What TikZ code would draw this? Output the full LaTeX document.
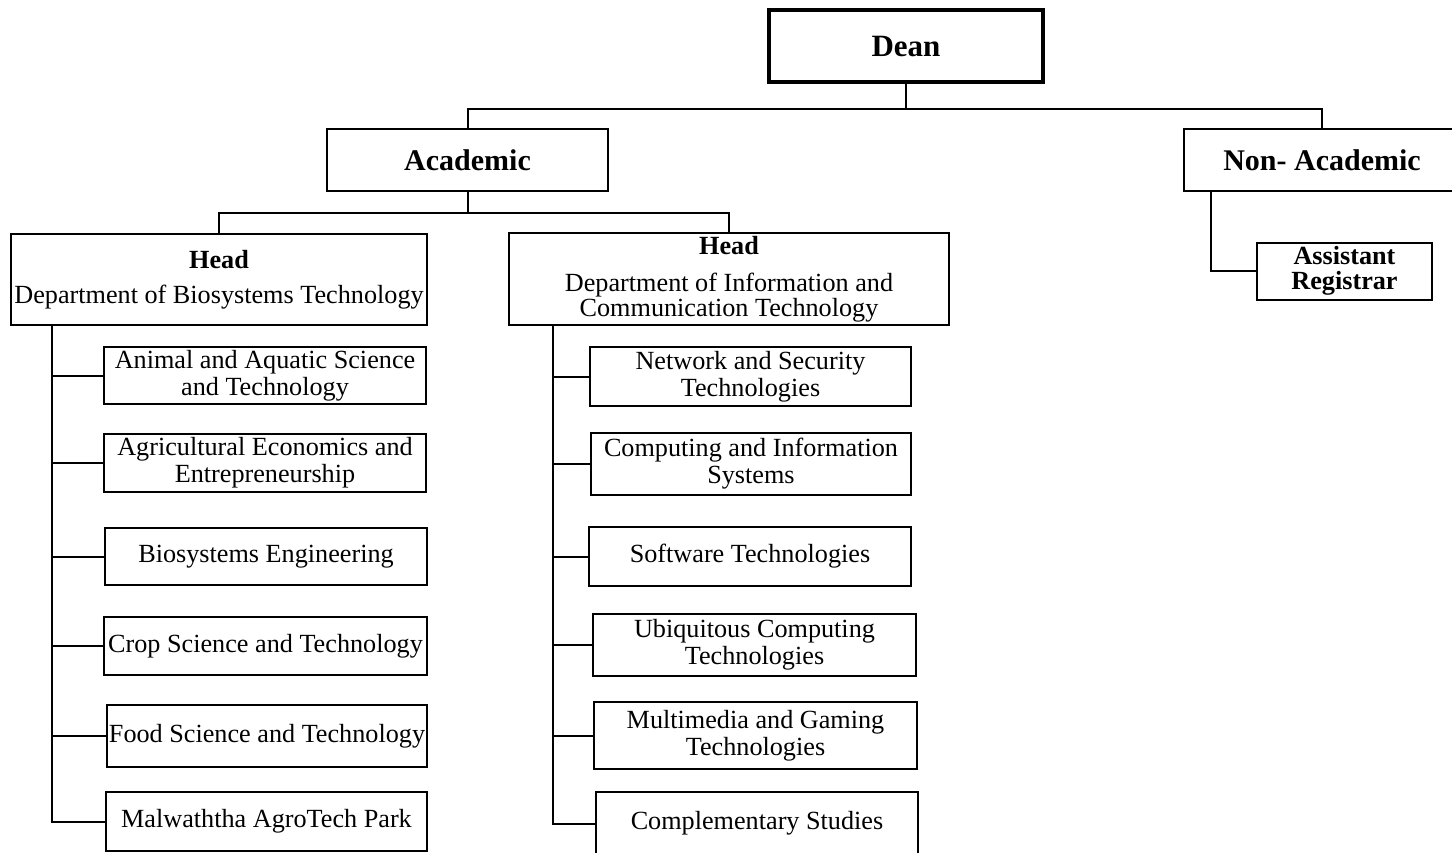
\documentclass[tikz,border=0pt]{standalone}
\usepackage{fontspec}
\setmainfont{Liberation Serif}
\newcommand\regf{\fontsize{26.2}{27}\selectfont}
\newcommand\bigbf{\fontsize{30}{31}\selectfont\bfseries}
\begin{document}
\begin{tikzpicture}[x=1pt,y=-1pt,
  box/.style={draw, line width=2pt, inner sep=0pt, align=center, font=\regf},
  conn/.style={line width=2pt},
  line join=miter]
\useasboundingbox (0,0) rectangle (1452,852);
\fill[white] (0,0) rectangle (1452,852);
% top level
\node[box, line width=4pt, minimum width=274pt, minimum height=72pt, font=\fontsize{31}{32}\selectfont\bfseries] (dean) at (906,46) {Dean};
\node[box, minimum width=281pt, minimum height=62pt, font=\bigbf] (acad) at (467.5,160) {Academic};
\node[box, minimum width=276pt, minimum height=62pt, font=\bigbf] (nonacad) at (1322,160) {Non- Academic};
% heads
\node[box, minimum width=416pt, minimum height=91pt] (headB) at (219,279.5) {\textbf{Head}\\[8pt]Department of Biosystems Technology};
\node[box, minimum width=440pt, minimum height=92pt] (headI) at (729,279) {\textbf{Head}\\[10pt]Department of Information and\\[-2pt]Communication Technology};
\node[box, minimum width=175pt, minimum height=57pt, font=\regf\bfseries] (ar) at (1344.5,271) {Assistant\\[-2pt]Registrar};
% left children
\node[box, minimum width=322pt, minimum height=57pt] (a1) at (265,375.5) {Animal and Aquatic Science\\and Technology};
\node[box, minimum width=322pt, minimum height=58pt] (a2) at (265,463) {Agricultural Economics and\\Entrepreneurship};
\node[box, minimum width=322pt, minimum height=57pt] (a3) at (266,556.5) {Biosystems Engineering};
\node[box, minimum width=323pt, minimum height=58pt] (a4) at (265.5,646) {Crop Science and Technology};
\node[box, minimum width=320pt, minimum height=62pt] (a5) at (267,736) {Food Science and Technology};
\node[box, minimum width=321pt, minimum height=59pt] (a6) at (266.5,821.5) {Malwaththa AgroTech Park};
% right children
\node[box, minimum width=321pt, minimum height=59pt] (b1) at (750.5,376.5) {Network and Security\\Technologies};
\node[box, minimum width=320pt, minimum height=62pt] (b2) at (751,464) {Computing and Information\\Systems};
\node[box, minimum width=322pt, minimum height=59pt] (b3) at (750,556.5) {Software Technologies};
\node[box, minimum width=323pt, minimum height=62pt] (b4) at (754.5,645) {Ubiquitous Computing\\Technologies};
\node[box, minimum width=323pt, minimum height=67pt] (b5) at (755.5,735.5) {Multimedia and Gaming\\Technologies};
\node[box, minimum width=322pt, minimum height=64pt] (b6) at (757,823.5) {Complementary Studies};
% connectors
\coordinate (tb) at (906,109);
\coordinate (mb) at (467,213);
\coordinate (lb) at (52,0);
\coordinate (rb) at (553,0);
\coordinate (nb) at (1211,0);
\draw[conn] (dean.south) -- (dean.south |- tb) -| (acad.north);
\draw[conn] (dean.south) -- (dean.south |- tb) -| (nonacad.north);
\draw[conn] (acad.south) -- (acad.south |- mb) -| (headB.north);
\draw[conn] (acad.south) -- (acad.south |- mb) -| (headI.north);
\draw[conn] (nonacad.south -| nb) |- (ar.west);
\draw[conn] (headB.south -| lb) -- (lb |- a6.west) -- (a6.west);
\foreach \n in {a1,a2,a3,a4,a5} \draw[conn] (lb |- \n.west) -- (\n.west);
\draw[conn] (headI.south -| rb) -- (rb |- b6.west) -- (b6.west);
\foreach \n in {b1,b2,b3,b4,b5} \draw[conn] (rb |- \n.west) -- (\n.west);
\end{tikzpicture}
\end{document}
